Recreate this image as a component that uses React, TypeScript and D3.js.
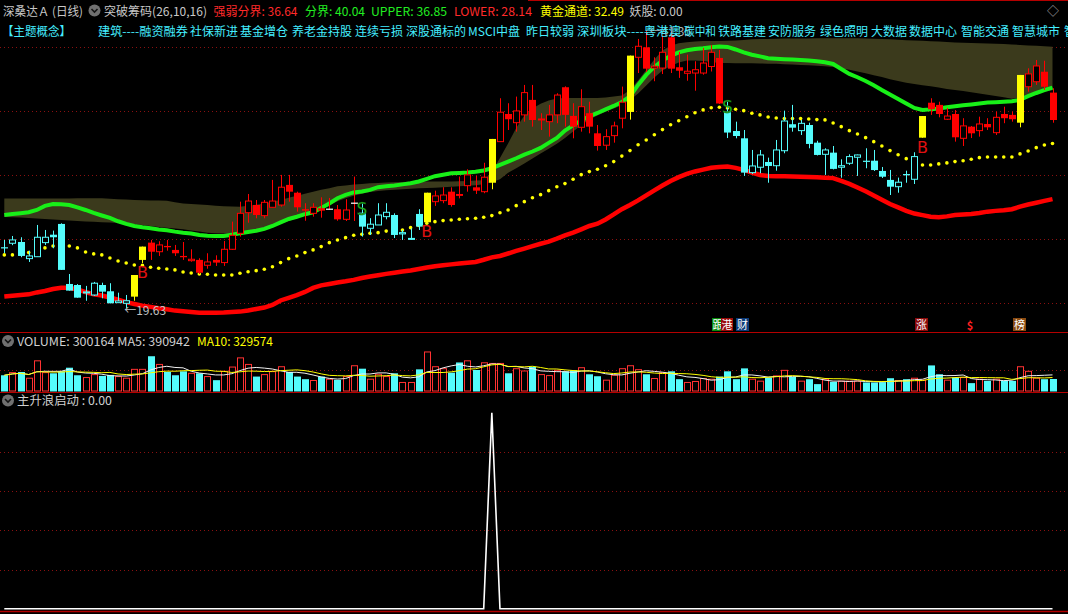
import React from "react";
import * as d3 from "d3";

// ---- candles (daily) ----
const opens = [24.38,24.69,24.79,23.49,23.64,24.74,25.36,26.20,21.51,21.43,
  20.81,20.65,21.43,20.94,20.05,20.00,20.52,23.39,24.74,24.03,
  24.48,24.17,23.70,23.33,23.39,22.97,23.39,23.18,24.22,25.47,
  27.08,27.68,26.85,27.50,27.68,29.25,28.64,27.35,27.03,27.43,
  27.35,27.35,26.56,27.82,27.08,25.86,26.12,26.77,26.90,25.42,
  25.00,26.98,26.33,27.94,28.02,28.72,28.54,29.19,29.06,28.72,
  29.42,32.63,34.79,34.11,34.72,35.89,34.35,34.19,34.72,36.88,
  34.64,33.75,34.85,33.28,32.35,33.10,34.46,34.95,39.22,40.00,
  38.38,38.38,40.78,38.44,37.97,37.99,37.99,38.50,39.17,34.99,
  33.46,32.89,30.21,30.63,31.04,30.75,31.92,33.99,33.49,33.93,
  32.55,31.64,31.77,30.63,30.94,31.41,31.14,31.14,30.34,29.64,
  29.11,30.10,29.69,32.94,35.67,35.50,34.38,34.79,32.89,33.80,
  33.49,34.01,33.33,34.79,34.72,34.11,36.92,37.31,38.09,36.46];
const highs = [24.95,25.26,25.16,24.11,26.12,25.73,25.68,26.25,22.29,21.50,
  21.36,21.67,21.61,21.57,20.83,20.65,22.21,24.43,24.95,24.85,
  24.95,24.56,24.79,24.22,23.52,23.91,23.75,24.87,26.38,27.94,
  28.54,28.07,28.07,29.64,30.03,30.03,28.72,27.82,27.82,28.28,
  28.23,27.68,28.13,29.90,27.82,26.65,27.82,27.82,27.03,25.73,
  25.86,27.35,28.64,28.80,29.07,29.06,29.90,30.47,29.95,30.98,
  32.84,36.02,35.63,36.15,37.06,37.06,34.85,35.50,36.41,36.95,
  35.63,36.72,35.75,33.93,33.60,34.19,36.93,39.35,40.65,41.35,
  39.22,40.99,41.25,39.64,39.43,38.91,39.95,40.18,39.79,35.78,
  34.19,33.54,31.98,31.98,31.38,32.76,35.05,35.50,34.32,34.11,
  32.70,32.11,32.29,31.25,31.64,31.62,32.11,31.98,30.65,30.42,
  29.82,30.36,31.80,34.63,36.02,35.75,35.26,35.10,34.46,33.85,
  34.58,34.46,34.97,35.36,34.97,37.84,38.36,39.01,38.95,36.80];
const lows = [23.93,24.54,23.60,23.23,23.64,24.56,24.30,22.61,20.99,20.44,
  20.20,20.57,20.39,20.00,20.05,19.63,20.20,23.15,23.39,23.70,
  24.11,23.70,23.39,23.25,22.29,22.70,22.92,22.92,24.17,25.21,
  26.30,26.64,26.64,27.50,27.55,27.94,27.16,26.45,26.77,26.69,
  27.29,26.45,26.43,26.43,25.21,25.34,26.12,26.56,25.10,24.95,
  24.95,25.73,26.33,27.61,27.82,27.55,28.20,28.72,28.54,28.60,
  28.91,32.63,33.54,33.41,34.19,33.80,33.54,33.02,34.07,33.80,
  32.89,33.41,33.28,31.93,31.98,32.55,33.67,34.35,37.99,38.07,
  37.35,37.91,37.99,37.61,37.39,36.61,37.86,38.11,35.57,32.91,
  32.89,29.95,30.10,30.16,29.42,30.36,31.72,33.41,33.15,32.11,
  31.55,30.03,30.46,29.81,30.81,29.95,30.55,30.34,29.79,28.46,
  28.64,29.42,29.32,32.94,34.72,34.53,34.32,32.63,32.29,32.91,
  33.02,33.54,33.15,34.07,34.19,33.75,36.53,37.06,36.67,34.11];
const closes = [24.30,24.95,23.70,23.70,25.16,25.16,25.16,22.61,20.99,20.44,
  20.89,21.57,20.91,20.00,20.18,20.20,22.21,24.43,24.03,24.56,
  24.38,23.91,23.60,23.44,22.39,23.23,23.18,24.22,25.31,27.03,
  27.99,26.90,27.89,27.99,29.07,28.72,27.50,27.24,27.50,27.24,
  27.35,26.56,27.29,27.82,25.99,26.18,26.90,27.11,25.34,25.52,
  25.07,25.99,28.64,28.39,28.46,27.68,28.39,30.03,28.80,29.85,
  32.84,34.93,34.38,35.03,36.46,34.32,34.40,34.72,36.27,34.72,
  33.80,35.36,33.80,32.29,33.02,33.86,35.71,39.35,40.08,38.33,
  38.52,39.61,38.33,38.17,38.13,38.25,38.77,39.61,35.61,33.34,
  33.07,30.21,30.73,31.59,30.73,31.98,34.24,33.72,34.06,32.45,
  31.59,31.98,30.50,30.75,31.46,31.59,31.06,30.41,29.89,29.11,
  29.46,30.00,31.46,34.63,35.16,34.79,34.63,32.97,33.86,33.28,
  34.01,33.75,34.53,34.46,34.38,37.84,37.92,38.54,36.92,34.32];
// candle colour state: c = weak (cyan), r = strong (red), y = breakout, w = flat doji
const states = ("cccccccccccccccc" + "yy" + "rrrrrrrrrrrrrrrrrrrrrr" + "w" + "rr" + "w" +
  "cccccccc" + "y" + "rrrrrrr" + "y" + "rrrrrrrrrrrrrrrr" + "y" + "rrrrrrrrrrr" +
  "cccccccccccccccccccccccc" + "y" + "rrrrrrrrrrr" + "y" + "rrrr").split("");

const volumes = [393600,459200,475600,319800,754400,459200,442800,492000,582200,393600,
  336200,410000,377200,401800,360800,319800,541200,541200,869200,664200,
  475600,393600,492000,442800,442800,360800,270600,492000,598600,828200,
  664200,360800,410000,483800,606800,475600,360800,295200,262400,360800,
  295200,278800,360800,631400,557600,295200,418200,360800,442800,213200,
  213200,541200,975800,606800,557600,459200,713400,754400,524800,705200,
  688800,688800,442800,557600,500200,606800,410000,385400,516600,492000,
  516600,582200,418200,369000,270600,393600,557600,631400,533000,418200,
  311600,459200,492000,295200,213200,237800,311600,295200,360800,492000,
  295200,565800,295200,246000,336200,377200,516600,352600,246000,295200,
  172200,295200,229600,246000,246000,246000,213200,213200,221400,319800,
  262400,295200,319800,270600,639600,418200,270600,336200,336200,196800,
  295200,254200,295200,254200,254200,606800,492000,319800,295200,300164];

// ---- indicator lines ----
const upperLine = [26.90,26.98,27.04,27.11,27.29,27.61,27.76,27.74,27.68,27.49,
  27.29,27.06,26.86,26.67,26.41,26.20,26.04,25.94,25.86,25.77,
  25.71,25.60,25.51,25.46,25.34,25.28,25.26,25.26,25.36,25.47,
  25.57,25.67,25.81,26.04,26.32,26.59,26.76,26.96,27.11,27.45,
  27.80,28.21,28.47,28.66,28.74,28.86,29.07,29.15,29.21,29.29,
  29.38,29.52,29.72,29.93,30.05,30.16,30.18,30.21,30.28,30.38,
  30.55,30.81,31.07,31.33,31.61,31.86,32.14,32.53,32.92,33.50,
  33.90,34.29,34.61,34.87,35.15,35.42,35.73,36.16,37.06,37.84,
  38.47,38.96,39.33,39.60,39.77,39.87,39.93,40.01,40.07,40.03,
  39.83,39.60,39.42,39.29,39.15,39.11,39.07,39.04,39.01,38.96,
  38.91,38.83,38.70,38.31,37.92,37.66,37.37,37.04,36.67,36.32,
  35.97,35.61,35.26,35.11,35.15,35.22,35.32,35.40,35.47,35.54,
  35.61,35.68,35.71,35.75,35.79,35.89,36.18,36.43,36.65,36.85];
const bandTop = [28.19,28.19,28.19,28.19,28.19,28.19,28.19,28.19,28.19,28.20,
  28.21,28.21,28.20,28.17,28.13,28.10,28.08,28.06,28.04,28.04,
  28.02,27.90,27.80,27.76,27.72,27.68,27.63,27.59,27.57,27.55,
  27.63,27.70,27.80,27.95,28.08,28.25,28.40,28.56,28.72,28.87,
  28.99,29.14,29.21,29.28,29.33,29.37,29.40,29.43,29.46,29.48,
  29.49,29.50,29.51,29.51,29.51,29.52,29.54,29.56,29.59,29.62,
  30.26,31.36,32.49,33.70,34.68,35.22,35.59,35.85,36.00,36.04,
  36.04,36.04,36.04,36.04,36.08,36.15,36.24,36.67,37.41,38.23,
  39.05,39.75,40.12,40.32,40.40,40.46,40.50,40.50,40.50,40.51,
  40.53,40.58,40.63,40.65,40.65,40.67,40.68,40.68,40.69,40.69,
  40.70,40.70,40.71,40.71,40.71,40.70,40.68,40.67,40.65,40.62,
  40.59,40.56,40.54,40.51,40.48,40.45,40.42,40.38,40.36,40.33,
  40.31,40.29,40.27,40.25,40.22,40.18,40.15,40.12,40.09,40.04];
const bandBottom = [26.75,26.72,26.70,26.67,26.63,26.59,26.55,26.51,26.47,26.43,
  26.39,26.37,26.34,26.31,26.28,26.23,26.17,26.11,26.04,25.97,
  25.91,25.85,25.78,25.69,25.61,25.52,25.48,25.46,25.43,25.42,
  25.51,25.61,25.77,26.00,26.22,26.43,26.67,26.88,27.10,27.33,
  27.66,27.97,28.21,28.40,28.56,28.70,28.78,28.83,28.87,28.91,
  28.95,28.98,29.00,29.03,29.06,29.10,29.14,29.18,29.23,29.30,
  29.45,29.70,30.20,30.55,30.93,31.32,31.70,32.07,32.46,32.92,
  33.43,33.91,34.36,34.68,34.97,35.22,35.48,35.89,36.40,37.02,
  37.64,38.19,38.54,38.82,38.96,38.97,38.92,38.85,38.78,38.77,
  38.76,38.76,38.75,38.74,38.72,38.71,38.68,38.65,38.62,38.59,
  38.55,38.51,38.47,38.35,38.24,38.11,37.97,37.82,37.67,37.51,
  37.36,37.24,37.14,37.04,36.95,36.86,36.75,36.67,36.58,36.48,
  36.39,36.29,36.19,36.09,35.98,36.08,36.24,36.40,36.53,36.64];
const goldDots = [23.78,23.78,23.86,23.96,24.13,24.33,24.48,24.52,24.48,24.33,
  24.01,23.86,23.78,23.54,23.31,23.15,22.99,22.96,22.82,22.74,
  22.68,22.61,22.45,22.37,22.29,22.27,22.21,22.21,22.21,22.35,
  22.47,22.55,22.66,22.86,23.18,23.49,23.70,23.96,24.17,24.43,
  24.74,24.95,25.13,25.32,25.39,25.47,25.52,25.64,25.69,25.73,
  25.91,26.08,26.25,26.38,26.46,26.51,26.57,26.61,26.64,26.72,
  26.85,27.08,27.29,27.63,27.94,28.25,28.49,28.80,29.11,29.35,
  29.69,30.05,30.29,30.47,30.75,31.07,31.50,31.93,32.39,32.76,
  33.17,33.57,33.95,34.26,34.57,34.89,35.11,35.28,35.32,35.26,
  35.16,35.05,34.85,34.72,34.56,34.48,34.43,34.43,34.43,34.40,
  34.35,34.33,34.09,33.80,33.49,33.23,32.94,32.63,32.29,31.93,
  31.61,31.30,31.04,30.81,30.81,30.89,30.97,31.07,31.14,31.25,
  31.38,31.43,31.43,31.43,31.43,31.67,31.90,32.16,32.37,32.49];
const lowerLine = [20.53,20.59,20.64,20.70,20.85,20.96,21.12,21.22,21.22,21.08,
  20.88,20.70,20.61,20.45,20.28,20.09,19.95,19.82,19.72,19.62,
  19.54,19.43,19.38,19.32,19.27,19.27,19.27,19.28,19.32,19.35,
  19.44,19.56,19.67,19.87,20.22,20.43,20.64,20.89,21.20,21.40,
  21.51,21.63,21.72,21.83,21.98,22.09,22.19,22.30,22.39,22.48,
  22.57,22.68,22.79,22.90,22.97,23.04,23.11,23.17,23.23,23.40,
  23.59,23.70,23.89,24.09,24.27,24.46,24.65,24.82,25.05,25.31,
  25.52,25.78,26.04,26.22,26.55,26.94,27.35,27.68,28.04,28.43,
  28.82,29.20,29.56,29.86,30.11,30.30,30.44,30.59,30.65,30.68,
  30.58,30.42,30.22,30.03,29.95,29.93,29.93,29.91,29.89,29.87,
  29.84,29.81,29.78,29.56,29.33,29.05,28.75,28.43,28.09,27.76,
  27.49,27.22,27.01,26.89,26.76,26.72,26.79,26.89,26.94,26.98,
  27.06,27.16,27.22,27.27,27.35,27.55,27.72,27.86,28.00,28.14];
// 主升浪启动 signal
const launch = [0,0,0,0,0,0,0,0,0,0, 0,0,0,0,0,0,0,0,0,0, 0,0,0,0,0,0,0,0,0,0,
  0,0,0,0,0,0,0,0,0,0, 0,0,0,0,0,0,0,0,0,0, 0,0,0,0,0,0,0,0,0,0,
  1,0,0,0,0,0,0,0,0,0, 0,0,0,0,0,0,0,0,0,0, 0,0,0,0,0,0,0,0,0,0,
  0,0,0,0,0,0,0,0,0,0, 0,0,0,0,0,0,0,0,0,0, 0,0,0,0,0,0,0,0,0,0,
  0,0,0,0,0,0,0,0,0,0];

const buyAt = [17, 52, 113];
const sellAt = [44, 89];
const priceTicks = [20, 25, 30, 35, 40];
const volTicks = [520000];
const launchTicks = [0.2, 0.4, 0.6, 0.8];

const concepts = ["建筑----融资融券","社保新进","基金增仓","养老金持股","连续亏损","深股通标的","MSCI中盘","昨日较弱",
  "深圳板块----粤港澳","碳中和","铁路基建","安防服务","绿色照明","大数据","数据中心","智能交通","智慧城市","智"];
const conceptX = [98,190,240,292,355,406,468,526,577,684,718,768,820,871,909,961,1012,1064];
const conceptW = [90,0,0,0,0,0,0,0,104,32,0,0,0,0,0,0,0,0];

const FONT = "'Noto Sans CJK SC','Noto Sans',sans-serif";
const RED = "#ff0000", CYAN = "#54fcfc", YEL = "#ffff00", GRN = "#18f018", GRID = "#8a1010", SEP = "#b40000";

const Icon = ({ cx, cy }: { cx: number; cy: number }) => (
  <g>
    <circle cx={cx} cy={cy} r={6} fill="#707070" />
    <path d={`M${cx-3},${cy-1.5}L${cx},${cy+1.5}L${cx+3},${cy-1.5}`} stroke="#141414" strokeWidth={1.6} fill="none" />
  </g>
);

export default function App() {
  const n = closes.length;
  const idx = d3.range(n);
  const x = d3.scaleLinear().domain([0, n - 1]).range([4.3, 1052.5]);
  const y = d3.scaleLinear().domain([20, 40]).range([303.3, 47.3]);
  const yv = d3.scaleLinear().domain([0, 1e6]).range([391, 351]);
  const ys = d3.scaleLinear().domain([0, 1]).range([608.7, 412.7]);

  const band = d3.area<number>().x(i => x(i)).y0(i => y(bandBottom[i])).y1(i => y(bandTop[i]))(idx)!;
  const path = (arr: number[], sc: (v: number) => number) => d3.line<number>().x(i => x(i)).y(i => sc(arr[i]))(idx)!;
  const ma = (k: number) => volumes.map((_, i) => d3.mean(volumes.slice(Math.max(0, i - k + 1), i + 1))!);
  const ma5 = ma(5), ma10 = ma(10);

  const candleColor = (s: string) => (s === "c" ? CYAN : s === "y" ? YEL : RED);

  return (
    <svg width={1068} height={614} style={{ position: "fixed", left: 0, top: 0, background: "#000" }} fontFamily={FONT}>
      <style>{`body{margin:0;background:#000}`}</style>
      <rect width={1068} height={614} fill="#000" />

      {/* grids */}
      {priceTicks.map(t => <line key={"p" + t} x1={0} x2={1068} y1={Math.round(y(t)) + 0.5} y2={Math.round(y(t)) + 0.5} stroke={GRID} strokeDasharray="1 3" />)}
      {volTicks.map(t => <line key={"v" + t} x1={0} x2={1068} y1={Math.round(yv(t)) + 0.5} y2={Math.round(yv(t)) + 0.5} stroke={GRID} strokeDasharray="1 3" />)}
      {launchTicks.map(t => <line key={"l" + t} x1={0} x2={1068} y1={Math.round(ys(t)) + 0.5} y2={Math.round(ys(t)) + 0.5} stroke={GRID} strokeDasharray="1 3" />)}

      {/* band + channel lines */}
      <path d={band} fill="#3b3a1c" />
      <path d={path(upperLine, y)} fill="none" stroke={GRN} strokeWidth={4} />
      <path d={path(lowerLine, y)} fill="none" stroke={RED} strokeWidth={4.5} />
      {idx.map(i => <circle key={"d" + i} cx={x(i)} cy={y(goldDots[i])} r={1.8} fill={YEL} />)}

      {/* candles */}
      {idx.map(i => {
        const cx = Math.round(x(i));
        const s = states[i];
        const col = candleColor(s);
        const o = opens[i], c = closes[i];
        const top = y(Math.max(o, c)), bot = y(Math.min(o, c));
        const up = c > o;
        if (s === "w") {
          return (
            <g key={"k" + i}>
              <line x1={cx + 0.5} x2={cx + 0.5} y1={y(highs[i])} y2={y(lows[i])} stroke={RED} />
              <line x1={cx - 3} x2={cx + 4} y1={top} y2={top} stroke="#fff" strokeWidth={1.2} />
            </g>
          );
        }
        return (
          <g key={"k" + i}>
            <line x1={cx + 0.5} x2={cx + 0.5} y1={y(highs[i])} y2={y(lows[i])} stroke={col} />
            {up || s === "y"
              ? s === "y"
                ? <rect x={cx - 3} y={top} width={7} height={Math.max(1, bot - top)} fill={col} />
                : <rect x={cx - 2.5} y={top} width={6} height={Math.max(1, bot - top)} fill="#000" stroke={col} />
              : <rect x={cx - 3} y={top} width={7} height={Math.max(1.2, bot - top)} fill={col} />}
          </g>
        );
      })}

      {/* B / S marks */}
      {buyAt.map(i => <text key={"b" + i} x={x(i)} y={y(lows[i]) + 15} fill="#e01010" fontSize={16} fontFamily="'DejaVu Sans',sans-serif" textAnchor="middle">B</text>)}
      {sellAt.map(i => <text key={"s" + i} x={x(i)} y={y(highs[i]) + 12} fill="#20b820" stroke="#0a400a" strokeWidth={0.4} fontSize={17} fontFamily="'DejaVu Sans',sans-serif" textAnchor="middle">S</text>)}
      <text x={x(15) - 2} y={y(19.63) + 7} fill="#c0c0c0" fontSize={12}>←19.63</text>
      <text x={x(79) + 3} y={y(41.35) + 6} fill="#b0b0b0" fontSize={12}>←41.35</text>

      {/* news tags */}
      <g fontSize={11} fill="#fff" textAnchor="middle">
        <rect x={712} y={318} width={12} height={13} fill="#0a8a0a" /><text x={718} y={329}>跟</text>
        <rect x={721} y={318} width={12} height={13} fill="#9a0a0a" /><text x={727} y={329}>港</text>
        <rect x={736} y={318} width={13} height={13} fill="#0b3a78" /><text x={742.5} y={329}>财</text>
        <rect x={915} y={318} width={13} height={13} fill="#8a0a0a" /><text x={921.5} y={329}>涨</text>
        <text x={970} y={330} fill="#ff2020" fontWeight="bold">$</text>
        <rect x={1013} y={318} width={13} height={13} fill="#8a4a10" /><text x={1019.5} y={329}>榜</text>
      </g>

      {/* volume */}
      {idx.map(i => {
        const cx = Math.round(x(i));
        const top = yv(volumes[i]);
        return closes[i] >= opens[i]
          ? <rect key={"v" + i} x={cx - 2.5} y={top} width={6} height={391 - top} fill="#000" stroke="#ff3232" />
          : <rect key={"v" + i} x={cx - 3} y={top} width={7} height={391.5 - top} fill={CYAN} />;
      })}
      <path d={path(ma5, yv)} fill="none" stroke="#f0f0f0" strokeWidth={1} />
      <path d={path(ma10, yv)} fill="none" stroke={YEL} strokeWidth={1} />

      {/* launch signal */}
      <path d={path(launch, ys)} fill="none" stroke="#fff" strokeWidth={1.6} />

      {/* separators */}
      <line x1={0} x2={1068} y1={332.5} y2={332.5} stroke={SEP} />
      <line x1={0} x2={1068} y1={392.5} y2={392.5} stroke={SEP} />
      <line x1={0} x2={1068} y1={611.5} y2={611.5} stroke={SEP} strokeWidth={1.5} />
      <line x1={528} x2={1068} y1={0.5} y2={0.5} stroke={SEP} />

      {/* header row 1 */}
      <g fontSize={12}>
        <text x={3} y={15.5} fill="#c8c8c8" textLength={80} lengthAdjust="spacingAndGlyphs">深桑达Ａ (日线)</text>
        <Icon cx={94.5} cy={10.5} />
        <text x={104} y={15.5} fill="#c8c8c8" textLength={103} lengthAdjust="spacingAndGlyphs">突破筹码(26,10,16)</text>
        <text x={213.5} y={15.5} fill="#ff2a2a" textLength={84} lengthAdjust="spacingAndGlyphs">强弱分界: 36.64</text>
        <text x={305} y={15.5} fill="#22ee22" textLength={60} lengthAdjust="spacingAndGlyphs">分界: 40.04</text>
        <text x={371} y={15.5} fill="#22ee22" textLength={76} lengthAdjust="spacingAndGlyphs">UPPER: 36.85</text>
        <text x={454} y={15.5} fill="#ff2a2a" textLength={78} lengthAdjust="spacingAndGlyphs">LOWER: 28.14</text>
        <text x={540} y={15.5} fill={YEL} textLength={84} lengthAdjust="spacingAndGlyphs">黄金通道: 32.49</text>
        <text x={629.5} y={15.5} fill="#c8c8c8" textLength={53} lengthAdjust="spacingAndGlyphs">妖股: 0.00</text>
        <text x={1047} y={15.5} fill="#a0a0a0">◇</text>
      </g>

      {/* header row 2 */}
      <g fontSize={12} fill="#44eeff">
        <text x={2} y={35.5} textLength={69} lengthAdjust="spacingAndGlyphs">【主题概念】</text>
        {concepts.map((c, i) => conceptW[i]
          ? <text key={"c" + i} x={conceptX[i]} y={35.5} textLength={conceptW[i]} lengthAdjust="spacingAndGlyphs">{c}</text>
          : <text key={"c" + i} x={conceptX[i]} y={35.5}>{c}</text>)}
      </g>

      {/* sub panel titles */}
      <g fontSize={12}>
        <Icon cx={8} cy={341} />
        <text x={17} y={345.5} fill="#d0d0d0" textLength={173} lengthAdjust="spacingAndGlyphs">VOLUME: 300164 MA5: 390942</text>
        <text x={197} y={345.5} fill={YEL} textLength={76} lengthAdjust="spacingAndGlyphs">MA10: 329574</text>
        <Icon cx={8} cy={400.5} />
        <text x={17} y={405} fill="#d0d0d0" textLength={95} lengthAdjust="spacingAndGlyphs">主升浪启动 : 0.00</text>
      </g>
    </svg>
  );
}
